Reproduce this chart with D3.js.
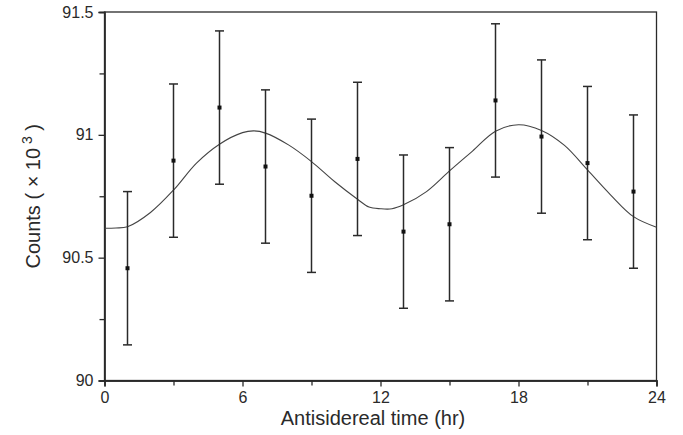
<!DOCTYPE html>
<html>
<head>
<meta charset="utf-8">
<script src="https://cdn.jsdelivr.net/npm/d3@7"></script>
<style>
  html, body { margin: 0; padding: 0; background: #fff; }
  svg { display: block; font-family: "Liberation Sans", Arial, sans-serif; }
</style>
</head>
<body>
<svg id="chart" width="683" height="435"></svg>
<script>
// Measured data points (hours, counts x 10^3)
const hours = [1, 3, 5, 7, 9, 11, 13, 15, 17, 19, 21, 23];
const counts = [90.457, 90.895, 91.111, 90.871, 90.752, 90.902, 90.606, 90.636, 91.140, 90.993, 90.885, 90.769];
const errors = [0.312, 0.312, 0.312, 0.312, 0.312, 0.312, 0.312, 0.312, 0.312, 0.312, 0.312, 0.312];

// Fitted curve
const fitHours = [0, 0.5, 1, 2, 3, 4, 5, 6, 6.5, 7, 8, 9, 10, 11, 11.5, 12, 12.5, 13, 14, 15, 16, 17, 18, 19, 20, 21, 22, 23, 24];
const fitCounts = [90.620, 90.621, 90.626, 90.684, 90.775, 90.885, 90.962, 91.009, 91.016, 91.007, 90.959, 90.891, 90.810, 90.738, 90.706, 90.699, 90.699, 90.715, 90.769, 90.853, 90.934, 91.015, 91.041, 91.018, 90.957, 90.857, 90.756, 90.667, 90.624];

const xMajorTicks = [0, 6, 12, 18, 24];
const xMinorTicks = [3, 9, 15, 21];
const yMajorTicks = [90, 90.5, 91, 91.5];
const yMinorTicks = [90.25, 90.75, 91.25];

const xLabel = "Antisidereal time (hr)";

const svg = d3.select("#chart");
const mLeft = 104.5, mRight = 656.5, mTop = 12, mBottom = 380.5;
const ink = "#2a2a2a";

const x = d3.scaleLinear().domain([0, 24]).range([mLeft, mRight]);
const y = d3.scaleLinear().domain([90, 91.5]).range([mBottom, mTop]);

// frame
svg.append("rect")
  .attr("x", mLeft).attr("y", mTop)
  .attr("width", mRight - mLeft).attr("height", mBottom - mTop)
  .attr("fill", "none").attr("stroke", ink).attr("stroke-width", 1.3);

// x axis
const xAxis = d3.axisBottom(x).tickValues(xMajorTicks).tickSize(6).tickPadding(5)
  .tickFormat(d3.format("d"));
const gx = svg.append("g").attr("transform", `translate(0,${mBottom})`).call(xAxis);
const gxMinor = svg.append("g").attr("transform", `translate(0,${mBottom})`)
  .call(d3.axisBottom(x).tickValues(xMinorTicks).tickSize(5).tickFormat(""));

// y axis
const yAxis = d3.axisLeft(y).tickValues(yMajorTicks).tickSize(6).tickPadding(5)
  .tickFormat(d => d3.format("")(d));
const gy = svg.append("g").attr("transform", `translate(${mLeft},0)`).call(yAxis);
const gyMinor = svg.append("g").attr("transform", `translate(${mLeft},0)`)
  .call(d3.axisLeft(y).tickValues(yMinorTicks).tickSize(5).tickFormat(""));

[gx, gxMinor, gy, gyMinor].forEach(g => {
  g.select(".domain").attr("stroke", ink).attr("stroke-width", 1.3);
  g.selectAll(".tick line").attr("stroke", ink).attr("stroke-width", 1.3);
  g.selectAll(".tick text").attr("fill", ink).attr("font-size", 16)
    .attr("font-family", "'Liberation Sans', Arial, sans-serif");
});

// fitted curve
const line = d3.line().x((d, i) => x(fitHours[i])).y(d => y(d)).curve(d3.curveCatmullRom.alpha(0.5));
svg.append("path").datum(fitCounts)
  .attr("d", line)
  .attr("fill", "none").attr("stroke", "#444").attr("stroke-width", 1.1);

// error bars
const capW = 4.5;
const eb = svg.append("g").attr("stroke", ink).attr("stroke-width", 1.5);
hours.forEach((h, i) => {
  const cx = x(h), y1 = y(counts[i] + errors[i]), y0 = y(counts[i] - errors[i]);
  eb.append("line").attr("x1", cx).attr("x2", cx).attr("y1", y1).attr("y2", y0);
  eb.append("line").attr("x1", cx - capW).attr("x2", cx + capW).attr("y1", y1).attr("y2", y1);
  eb.append("line").attr("x1", cx - capW).attr("x2", cx + capW).attr("y1", y0).attr("y2", y0);
});
svg.append("g").selectAll("rect").data(counts).join("rect")
  .attr("x", (d, i) => x(hours[i]) - 2)
  .attr("y", d => y(d) - 2)
  .attr("width", 4).attr("height", 4)
  .attr("fill", "#111");

// x label
svg.append("text")
  .attr("x", 373).attr("y", 425)
  .attr("text-anchor", "middle")
  .attr("font-size", 20).attr("fill", ink)
  .text(xLabel);

// y label
const yl = svg.append("text")
  .attr("transform", `translate(40,${(mTop + mBottom) / 2}) rotate(-90)`)
  .attr("text-anchor", "middle")
  .attr("font-size", 20).attr("fill", ink);
yl.append("tspan").text("Counts ( × 10");
yl.append("tspan").attr("dy", -8).attr("font-size", 14).text(" 3");
yl.append("tspan").attr("dy", 8).text(" )");
</script>
</body>
</html>
